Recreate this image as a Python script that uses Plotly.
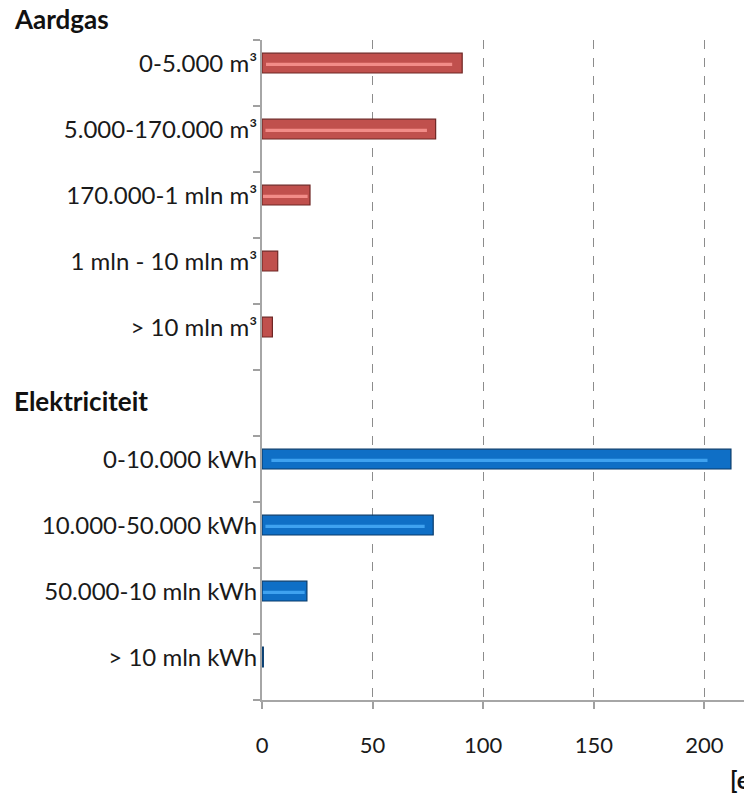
import plotly.graph_objects as go

# Tariff bands and amounts
gas_labels = ["0-5.000 m³", "5.000-170.000 m³", "170.000-1 mln m³",
              "1 mln - 10 mln m³", "> 10 mln m³"]
gas_values = [90.5, 78.5, 21.7, 7.1, 4.7]

elec_labels = ["0-10.000 kWh", "10.000-50.000 kWh", "50.000-10 mln kWh",
               "> 10 mln kWh"]
elec_values = [212.0, 77.4, 20.3, 0.6]

x_ticks = [0, 50, 100, 150, 200]

# row positions: gas bands, one empty row, electricity bands
gas_rows = list(range(len(gas_labels)))
elec_rows = [len(gas_labels) + 1 + i for i in range(len(elec_labels))]
n_rows = len(gas_labels) + 1 + len(elec_labels)
lead = 0.35  # bar centre sits this far below each row's upper boundary
boundaries = [k - lead for k in range(n_rows + 1)]

GAS = "#C0504D"
GAS_EDGE = "#6E2624"
GAS_HI = "#F28C88"
ELEC = "#0F6FC6"
ELEC_EDGE = "#083B6B"
ELEC_HI = "#3FA2F0"

font = "Lato, 'Open Sans', sans-serif"

fig = go.Figure()


def add_series(rows, labels, values, fill, edge, hi):
    fig.add_trace(go.Bar(
        y=rows, x=values, orientation="h", width=0.3,
        marker=dict(color=fill, line=dict(color=edge, width=1.2)),
        customdata=labels, hovertemplate="%{customdata}: %{x}<extra></extra>",
        showlegend=False,
    ))
    # light bevel stripe along each bar
    fig.add_trace(go.Bar(
        y=rows, x=[v * 0.93 if v > 10 else 0 for v in values],
        base=[v * 0.02 for v in values],
        orientation="h", width=0.05, offset=-0.005,
        marker=dict(color=hi, line=dict(width=0)),
        hoverinfo="skip", showlegend=False,
    ))


add_series(gas_rows, gas_labels, gas_values, GAS, GAS_EDGE, GAS_HI)
add_series(elec_rows, elec_labels, elec_values, ELEC, ELEC_EDGE, ELEC_HI)

left = 262
plot_w = 744 - left
plot_h = 796 - 40 - 96

fig.update_layout(
    width=744, height=796,
    margin=dict(l=left, r=0, t=40, b=96),
    paper_bgcolor="white", plot_bgcolor="white",
    barmode="overlay",
    font=dict(family=font, size=20, color="#1A1A1A"),
    xaxis=dict(
        range=[0, 217.9], tickvals=x_ticks, ticks="outside", ticklen=7,
        tickcolor="#A0A0A0", tickwidth=1.5,
        showline=True, linecolor="#A6A6A6", linewidth=2,
        showgrid=True, gridcolor="#8C8C8C", griddash="dash", gridwidth=1,
        zeroline=False, ticklabelstandoff=18,
        tickfont=dict(size=22, family=font, color="#1A1A1A"),
    ),
    yaxis=dict(
        range=[boundaries[-1], boundaries[0]],
        tickvals=gas_rows + elec_rows, ticktext=gas_labels + elec_labels,
        ticks="", showline=True, linecolor="#A6A6A6", linewidth=2,
        showgrid=False, zeroline=False, ticklabelstandoff=-2,
        tickfont=dict(size=24, family=font, color="#1A1A1A"),
        minor=dict(tickvals=boundaries, ticks="outside", ticklen=7,
                   tickcolor="#A0A0A0", tickwidth=1.5, showgrid=False),
    ),
    annotations=[
        dict(text="<b>Aardgas</b>", xref="paper", yref="paper",
             x=(12 - left) / plot_w, y=1 + 21 / plot_h, xanchor="left",
             yanchor="middle", showarrow=False,
             font=dict(size=26, family=font, color="#111111")),
        dict(text="<b>Elektriciteit</b>", xref="paper", yref="paper",
             x=(12 - left) / plot_w, y=1 - (401 - 40) / plot_h,
             xanchor="left", yanchor="middle", showarrow=False,
             font=dict(size=26, family=font, color="#111111")),
        dict(text="<b>[euro]</b>", xref="paper", yref="paper",
             x=(728 - left) / plot_w, y=-(780 - 700) / plot_h,
             xanchor="left", yanchor="middle", showarrow=False,
             font=dict(size=24, family=font, color="#111111")),
    ],
)

fig.write_html("out.html")
